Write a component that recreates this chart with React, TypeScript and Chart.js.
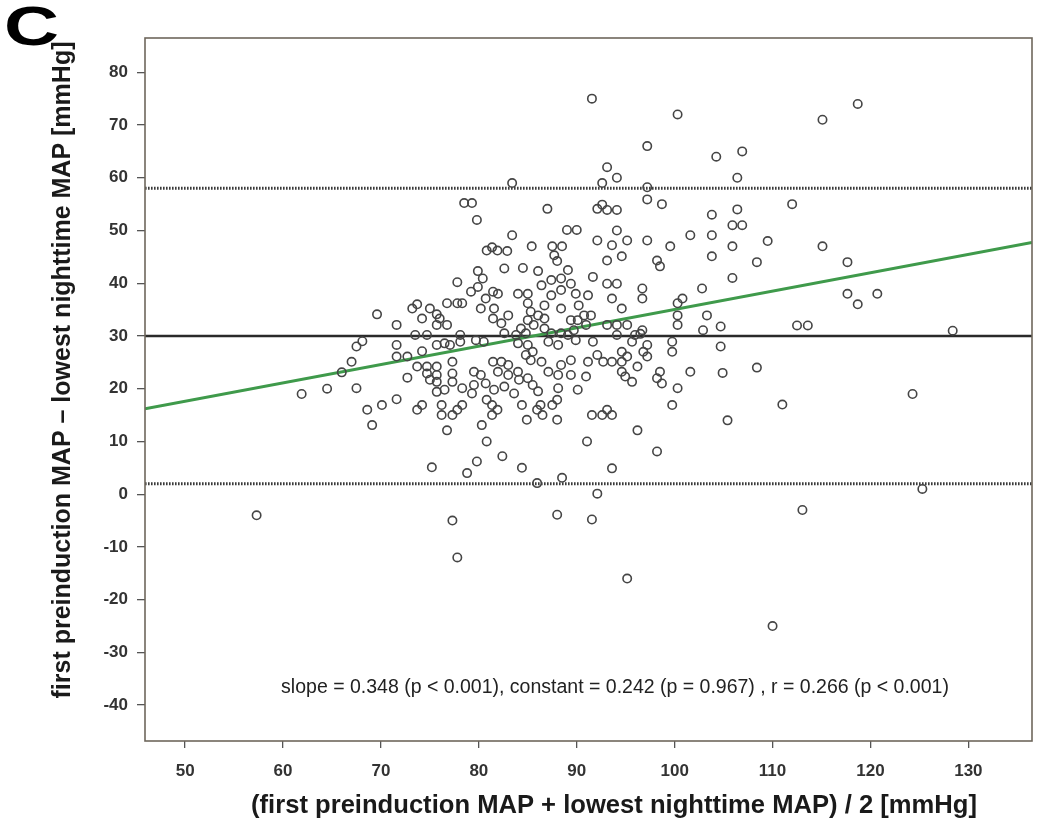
import React, { useEffect, useRef } from "react";
import { Chart, registerables } from "chart.js";

Chart.register(...registerables);

// ---- data: [mean of the two MAPs, difference] ----
const outlierPoints: [number, number][] = [
  [91.55, 75], [100.3, 72], [57.3, -4], [61.9, 19], [64.5, 20], [77.8, -12], [95.15, -16],
];
const upperPoints: [number, number][] = [
  [83.4, 59], [78.5, 55.2], [79.3, 55.2], [79.8, 52], [87, 54.1], [89, 50.1], [90, 50.1], [83.4, 49.1],
  [85.4, 47], [80.8, 46.2], [81.35, 46.8], [81.9, 46.2], [82.9, 46.1], [87.5, 47], [88.5, 47], [87.7, 45.3],
  [88, 44.2], [97.2, 66], [104.25, 64], [93.1, 62], [94.1, 60], [92.6, 59], [97.2, 58.2], [97.2, 55.9],
  [98.7, 55], [92.1, 54.1], [92.6, 54.9], [93.1, 53.9], [94.1, 53.9], [103.8, 53], [94.1, 50], [92.1, 48.1],
  [93.6, 47.2], [95.15, 48.1], [97.2, 48.1], [99.55, 47], [101.6, 49.1], [103.8, 49.1], [93.1, 44.3],
  [94.6, 45.1], [98.2, 44.3], [98.5, 43.2], [103.8, 45.1],
];
const leftMiddlePoints: [number, number][] = [
  [77.8, 40.2], [76.75, 36.2], [77.8, 36.2], [78.3, 36.2], [69.6, 34.1], [73.2, 35.2], [73.7, 36], [75, 35.2],
  [75.7, 34.1], [76, 33.3], [74.2, 33.3], [76.75, 32.1], [75.7, 32.1], [71.6, 32.1], [73.5, 30.2], [74.7, 30.2],
  [78.1, 30.2], [68.1, 29], [67.5, 28], [71.6, 28.3], [75.7, 28.3], [76.5, 28.6], [77.05, 28.3], [78.1, 28.9],
  [74.2, 27.1], [71.6, 26.1], [72.7, 26.1], [67, 25.1], [66, 23.1], [73.7, 24.2], [74.7, 24.2], [75.7, 24.2],
  [77.3, 25.1], [74.7, 22.9], [75.7, 22.6], [72.7, 22.1], [75, 21.7], [75.7, 21.3], [77.3, 22.9], [77.3, 21.3],
  [67.5, 20.1], [76.5, 19.8], [78.3, 20.1],
];
const centerPoints: [number, number][] = [
  [79.9, 42.3], [82.6, 42.8], [84.5, 42.9], [86.05, 42.3], [89.1, 42.5], [91.65, 41.2], [80.4, 40.9],
  [79.9, 39.3], [79.2, 38.4], [81.45, 38.4], [81.95, 38], [84, 38], [85, 38], [86.4, 39.6], [87.4, 40.6],
  [88.4, 40.9], [89.4, 39.9], [89.9, 38], [91.15, 37.7], [80.7, 37.1], [80.2, 35.2], [81.55, 35.2], [85, 36.2],
  [85.3, 34.6], [86.7, 35.8], [87.4, 37.7], [88.4, 38.7], [88.4, 35.2], [90.2, 35.8], [90.75, 33.9],
  [81.45, 33.3], [83, 33.9], [82.3, 32.4], [85, 33], [86.05, 33.9], [86.7, 33.3], [89.4, 33], [90.1, 33],
  [91.45, 33.9], [84.3, 31.4], [85.6, 32.1], [84.8, 30.5], [86.7, 31.4], [87.4, 30.5], [88.4, 30.5],
  [89.7, 31.1], [90.95, 32.1], [82.6, 30.5], [83.8, 30.2], [89.1, 30.2], [79.7, 29.2], [80.5, 28.9], [84, 28.6],
  [85, 28.3], [85.5, 27], [87.1, 28.9], [88.1, 28.3], [89.9, 29.2], [81.45, 25.1], [82.3, 25.1], [83, 24.5],
  [84.8, 26.4], [85.3, 25.4], [86.4, 25.1], [88.4, 24.5], [89.4, 25.4], [91.15, 25.1], [79.5, 23.2],
  [80.2, 22.6], [81.95, 23.2], [83, 22.6], [84, 23.2], [84.1, 21.7], [85, 22], [85.5, 20.7], [87.1, 23.2],
  [88.1, 22.6], [89.4, 22.6], [90.95, 22.3], [79.5, 20.7], [80.7, 21], [81.55, 19.8], [82.6, 20.4],
  [83.6, 19.1], [86.05, 19.5], [88.1, 20.1], [90.1, 19.8],
];
const rightMiddlePoints: [number, number][] = [
  [93.1, 39.9], [94.1, 39.9], [96.7, 39], [96.7, 37.1], [93.6, 37.1], [102.8, 39], [100.8, 37.1], [100.3, 36.2],
  [94.6, 35.2], [100.3, 33.9], [103.3, 33.9], [100.3, 32.1], [93.1, 32.1], [94.1, 32.1], [95.15, 32.1],
  [96.7, 31.1], [102.9, 31.1], [94.1, 30.2], [95.95, 30.2], [96.5, 30.4], [91.65, 28.9], [95.65, 28.9],
  [97.2, 28.3], [96.8, 27], [97.2, 26.1], [99.75, 28.9], [99.75, 27], [92.1, 26.4], [92.7, 25.1], [93.6, 25.1],
  [94.6, 25.1], [94.6, 27], [95.15, 26.1], [96.2, 24.2], [94.6, 23.2], [94.95, 22.3], [95.65, 21.3],
  [98.5, 23.2], [98.2, 22], [98.7, 21], [101.6, 23.2], [100.3, 20.1],
];
const lowerPoints: [number, number][] = [
  [68.6, 16], [70.1, 16.9], [71.6, 18], [69.1, 13.1], [73.7, 16], [74.2, 16.9], [76.2, 16.9], [76.2, 15],
  [77.3, 15], [77.8, 16], [78.3, 16.9], [75.7, 19.4], [76.75, 12.1], [75.2, 5.1], [77.3, -5], [79.3, 19.1],
  [80.8, 17.9], [81.35, 16.9], [81.9, 16], [81.35, 15], [80.3, 13.1], [80.8, 10], [82.4, 7.2], [79.8, 6.2],
  [78.8, 4], [84.4, 5], [84.9, 14.1], [84.4, 16.9], [86.3, 16.9], [85.95, 16], [86.5, 15], [87.5, 16.9],
  [88, 17.9], [88, 14.1], [91.55, 15], [91.05, 10], [85.95, 2.1], [88.5, 3.1], [88, -3.9], [91.55, -4.8],
  [92.6, 15], [93.1, 16], [93.6, 15], [99.75, 16.9], [96.2, 12.1], [98.2, 8.1], [93.6, 4.9], [92.1, 0.1],
];
const rightPoints: [number, number][] = [
  [118.7, 74], [115.1, 71], [106.9, 65], [106.4, 60], [112, 55], [106.4, 54], [105.9, 51], [106.9, 51],
  [105.9, 47], [109.5, 48], [115.1, 47], [108.4, 44], [117.65, 44], [105.9, 41], [117.65, 38], [120.7, 38],
  [118.7, 36], [104.7, 31.8], [112.5, 32], [113.6, 32], [128.4, 31], [104.7, 28], [104.9, 23], [108.4, 24],
  [111, 17], [105.4, 14], [124.3, 19], [125.3, 1], [113.05, -3], [110, -25],
];

const meanDifference = 30;
const upperLimit = 58;
const lowerLimit = 2;
const regressionSlope = 0.348;
const regressionConstant = 0.242;
const xRange = [45.9, 136.5];
const yRange = [-46.8, 86.5];
const xTickValues = [50, 60, 70, 80, 90, 100, 110, 120, 130];
const yTickValues = [-40, -30, -20, -10, 0, 10, 20, 30, 40, 50, 60, 70, 80];

const panelLabel = "C";
const statsText =
  "slope = 0.348 (p < 0.001), constant = 0.242 (p = 0.967) , r = 0.266 (p < 0.001)";
const xTitle = "(first preinduction MAP + lowest nighttime MAP) / 2 [mmHg]";
const yTitle = "first preinduction MAP \u2013 lowest nighttime MAP [mmHg]";

const FONT = 'Arial, "Liberation Sans", sans-serif';

const allPoints = [
  ...outlierPoints, ...upperPoints, ...leftMiddlePoints, ...centerPoints,
  ...rightMiddlePoints, ...lowerPoints, ...rightPoints,
];

const decorations = {
  id: "decorations",
  afterDraw(chart: any) {
    const { ctx, chartArea } = chart;
    const { left, top, right, bottom } = chartArea;
    ctx.save();
    ctx.strokeStyle = "#6e675c";
    ctx.lineWidth = 1.6;
    ctx.strokeRect(left, top, right - left, bottom - top);

    // panel letter
    ctx.save();
    ctx.fillStyle = "#000";
    ctx.textAlign = "left";
    ctx.textBaseline = "alphabetic";
    ctx.font = `bold 56px ${FONT}`;
    ctx.translate(4, 45);
    ctx.scale(1.36, 1);
    ctx.fillText(panelLabel, 0, 0);
    ctx.restore();

    ctx.fillStyle = "#222";
    ctx.textAlign = "center";
    ctx.textBaseline = "middle";
    ctx.font = `19.5px ${FONT}`;
    ctx.fillText(statsText, 615, 688);

    ctx.fillStyle = "#1a1a1a";
    ctx.font = `bold 25.6px ${FONT}`;
    ctx.fillText(xTitle, 614, 806);

    ctx.font = `bold 25px ${FONT}`;
    ctx.translate(63, 370);
    ctx.rotate(-Math.PI / 2);
    ctx.fillText(yTitle, 0, 0);
    ctx.restore();
  },
};

function lineData(y: number) {
  return xRange.map((x) => ({ x, y }));
}

export default function App() {
  const canvasRef = useRef<HTMLCanvasElement | null>(null);

  useEffect(() => {
    if (!canvasRef.current) return;
    const tickFont = { family: FONT, size: 17, weight: "bold" as const };
    const chart = new Chart(canvasRef.current, {
      type: "scatter",
      data: {
        datasets: [
          {
            label: "measurements",
            data: allPoints.map(([x, y]) => ({ x, y })),
            pointStyle: "circle",
            pointRadius: 4.2,
            pointBorderWidth: 1.6,
            borderColor: "#454545",
            backgroundColor: "rgba(255,255,255,0)",
            order: 0,
          },
          {
            type: "line",
            label: "regression",
            data: xRange.map((x) => ({ x, y: regressionSlope * x + regressionConstant })),
            borderColor: "#3f9a4b",
            borderWidth: 3,
            pointRadius: 0,
            order: 1,
          },
          {
            type: "line",
            label: "mean",
            data: lineData(meanDifference),
            borderColor: "#2a2a2a",
            borderWidth: 2.5,
            pointRadius: 0,
            order: 2,
          },
          {
            type: "line",
            label: "upper",
            data: lineData(upperLimit),
            borderColor: "#3a3a3a",
            borderWidth: 3,
            borderDash: [1.6, 1.4],
            pointRadius: 0,
            order: 3,
          },
          {
            type: "line",
            label: "lower",
            data: lineData(lowerLimit),
            borderColor: "#3a3a3a",
            borderWidth: 3,
            borderDash: [1.6, 1.4],
            pointRadius: 0,
            order: 4,
          },
        ] as any,
      },
      options: {
        animation: false,
        responsive: false,
        layout: { padding: { top: 38, right: 9, bottom: 0, left: 0 } },
        plugins: { legend: { display: false }, tooltip: { enabled: false } },
        scales: {
          x: {
            type: "linear",
            min: xRange[0],
            max: xRange[1],
            afterBuildTicks: (axis: any) => {
              axis.ticks = xTickValues.map((value) => ({ value }));
            },
            afterFit: (scale: any) => {
              scale.height = 82;
            },
            grid: { drawOnChartArea: false, tickLength: 7, color: "#555", lineWidth: 1.3 },
            border: { display: false },
            ticks: { font: tickFont, color: "#333", padding: 13, maxRotation: 0, autoSkip: false },
          },
          y: {
            type: "linear",
            min: yRange[0],
            max: yRange[1],
            afterBuildTicks: (axis: any) => {
              axis.ticks = yTickValues.map((value) => ({ value }));
            },
            afterFit: (scale: any) => {
              scale.width = 145;
            },
            grid: { drawOnChartArea: false, tickLength: 8, color: "#555", lineWidth: 1.3 },
            border: { display: false },
            ticks: { font: tickFont, color: "#333", padding: 9, autoSkip: false },
          },
        },
      },
      plugins: [decorations],
    });
    return () => chart.destroy();
  }, []);

  return (
    <div style={{ position: "absolute", left: 0, top: 0, width: 1041, height: 823, background: "#fff" }}>
      <canvas ref={canvasRef} width={1041} height={823} />
    </div>
  );
}
